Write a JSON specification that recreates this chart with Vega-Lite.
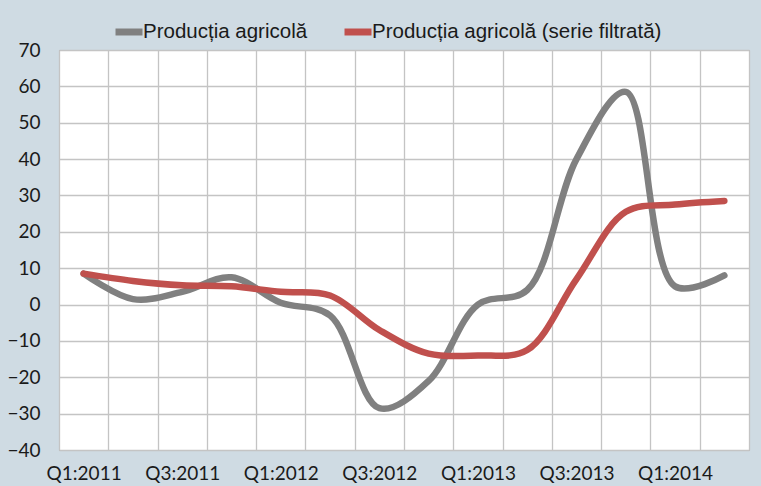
{
  "$schema": "https://vega.github.io/schema/vega-lite/v6.json",
  "autosize": "none",
  "width": 690,
  "height": 400,
  "padding": {"left": 59, "top": 50, "right": 12, "bottom": 36},
  "background": "#cfdbe3",
  "config": {
    "view": {"fill": "white", "stroke": "#a6a6a6", "strokeWidth": 1},
    "font": "Lato"
  },
  "data": {
    "values": [
      {"quarter": "Q1:2011", "series": "Producția agricolă", "value": 8.5},
      {"quarter": "Q2:2011", "series": "Producția agricolă", "value": 1.5},
      {"quarter": "Q3:2011", "series": "Producția agricolă", "value": 3.5},
      {"quarter": "Q4:2011", "series": "Producția agricolă", "value": 7.5},
      {"quarter": "Q1:2012", "series": "Producția agricolă", "value": 0.5},
      {"quarter": "Q2:2012", "series": "Producția agricolă", "value": -3},
      {"quarter": "Q3:2012", "series": "Producția agricolă", "value": -28.5},
      {"quarter": "Q4:2012", "series": "Producția agricolă", "value": -21},
      {"quarter": "Q1:2013", "series": "Producția agricolă", "value": 0},
      {"quarter": "Q2:2013", "series": "Producția agricolă", "value": 4},
      {"quarter": "Q3:2013", "series": "Producția agricolă", "value": 40},
      {"quarter": "Q4:2013", "series": "Producția agricolă", "value": 58.5},
      {"quarter": "Q1:2014", "series": "Producția agricolă", "value": 5},
      {"quarter": "Q2:2014", "series": "Producția agricolă", "value": 8},
      {"quarter": "Q1:2011", "series": "Producția agricolă (serie filtrată)", "value": 8.5},
      {"quarter": "Q2:2011", "series": "Producția agricolă (serie filtrată)", "value": 6.5},
      {"quarter": "Q3:2011", "series": "Producția agricolă (serie filtrată)", "value": 5.3},
      {"quarter": "Q4:2011", "series": "Producția agricolă (serie filtrată)", "value": 5.0},
      {"quarter": "Q1:2012", "series": "Producția agricolă (serie filtrată)", "value": 3.5},
      {"quarter": "Q2:2012", "series": "Producția agricolă (serie filtrată)", "value": 2.5},
      {"quarter": "Q3:2012", "series": "Producția agricolă (serie filtrată)", "value": -7},
      {"quarter": "Q4:2012", "series": "Producția agricolă (serie filtrată)", "value": -13.5},
      {"quarter": "Q1:2013", "series": "Producția agricolă (serie filtrată)", "value": -14},
      {"quarter": "Q2:2013", "series": "Producția agricolă (serie filtrată)", "value": -12.5},
      {"quarter": "Q3:2013", "series": "Producția agricolă (serie filtrată)", "value": 7},
      {"quarter": "Q4:2013", "series": "Producția agricolă (serie filtrată)", "value": 25.5},
      {"quarter": "Q1:2014", "series": "Producția agricolă (serie filtrată)", "value": 27.5},
      {"quarter": "Q2:2014", "series": "Producția agricolă (serie filtrată)", "value": 28.5}
    ]
  },
  "mark": {"type": "line", "interpolate": "catmull-rom", "strokeWidth": 6.5, "strokeCap": "round"},
  "encoding": {
    "x": {
      "field": "quarter",
      "type": "ordinal",
      "sort": null,
      "bandPosition": 0.5,
      "scale": {"type": "band", "paddingInner": 0, "paddingOuter": 0},
      "axis": {
        "title": null,
        "tickBand": "extent",
        "labelAngle": 0,
        "labelExpr": "indexof(datum.label, 'Q1') == 0 || indexof(datum.label, 'Q3') == 0 ? datum.label : ''",
        "labelFont": "Lato",
        "labelFontSize": 19,
        "labelColor": "#1a1a1a",
        "labelPadding": 14,
        "ticks": false,
        "domain": false,
        "grid": true,
        "gridColor": "#c4c4c4",
        "gridWidth": 1.3
      }
    },
    "y": {
      "field": "value",
      "type": "quantitative",
      "scale": {"domain": [-40, 70], "nice": false, "zero": false},
      "axis": {
        "title": null,
        "values": [-40, -30, -20, -10, 0, 10, 20, 30, 40, 50, 60, 70],
        "labelFont": "Lato",
        "labelFontSize": 19,
        "labelColor": "#1a1a1a",
        "labelPadding": 19,
        "ticks": false,
        "domain": false,
        "grid": true,
        "gridColor": "#c4c4c4",
        "gridWidth": 1.3
      }
    },
    "color": {
      "field": "series",
      "type": "nominal",
      "scale": {
        "domain": ["Producția agricolă", "Producția agricolă (serie filtrată)"],
        "range": ["#808080", "#c0504d"]
      },
      "legend": {
        "title": null,
        "orient": "none",
        "direction": "horizontal",
        "legendX": 53,
        "legendY": -35,
        "symbolType": "stroke",
        "symbolSize": 729,
        "symbolStrokeWidth": 7,
        "labelFont": "Liberation Sans",
        "labelFontSize": 20.5,
        "labelColor": "#1a1a1a",
        "labelOffset": -3,
        "labelLimit": 500,
        "columnPadding": 22
      }
    }
  }
}
